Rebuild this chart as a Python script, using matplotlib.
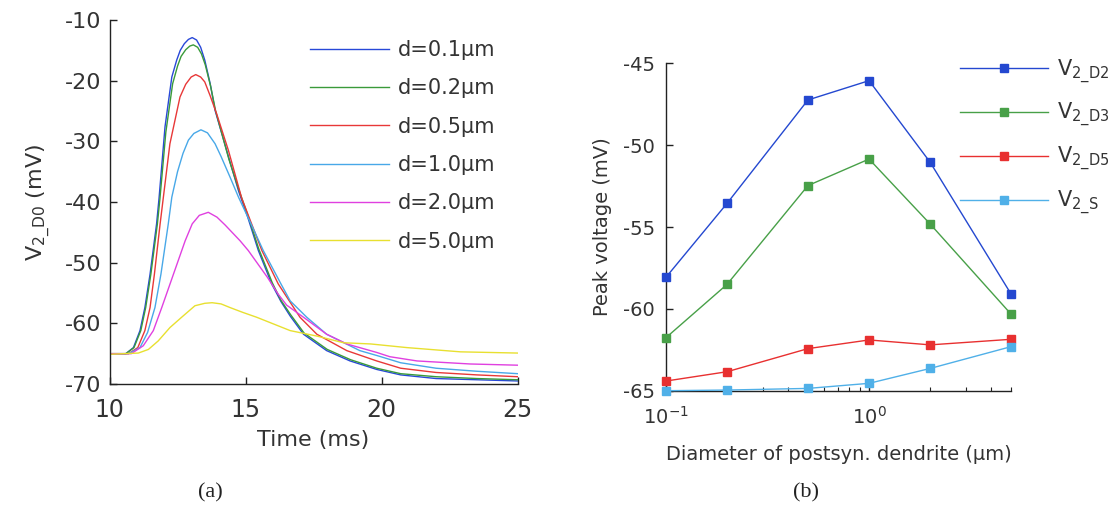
import matplotlib
matplotlib.use("Agg")
import matplotlib.pyplot as plt
import numpy as np

plt.rcParams['font.family'] = ['DejaVu Sans']
plt.rcParams['axes.unicode_minus'] = False
plt.rcParams['mathtext.fontset'] = 'dejavusans'
TXT = '#333333'

# ---------------- panel (a): time courses ----------------
labels_a = ['d=0.1µm', 'd=0.2µm', 'd=0.5µm', 'd=1.0µm', 'd=2.0µm', 'd=5.0µm']
colors_a = ['#2848d8', '#3a9a3a', '#e83838', '#48a8e8', '#e040e0', '#e8e030']

t_d01 = [10, 10.6, 10.88, 11.12, 11.3, 11.49, 11.73, 11.82, 12.04, 12.29, 12.47, 12.6, 12.75, 12.9, 13.04, 13.2,
         13.35, 13.5, 13.7, 13.88, 14.37, 14.75, 15.08, 15.47, 15.96, 16.3, 16.64, 17.13, 17.98, 18.84, 19.82,
         20.7, 22.0, 23.5, 25]
v_d01 = [-65, -65, -64.0, -61.2, -57.4, -51.9, -43.6, -39.4, -27.6, -19.4, -16.6, -15.0, -13.9, -13.2, -12.9, -13.3,
         -14.5, -16.6, -20.5, -24.9, -32.5, -38.3, -42.5, -48.0, -53.5, -56.4, -58.8, -61.8, -64.5, -66.2, -67.6,
         -68.5, -69.1, -69.3, -69.5]

t_d02 = [10, 10.6, 10.9, 11.15, 11.33, 11.52, 11.76, 11.85, 12.07, 12.32, 12.5, 12.63, 12.8, 12.95, 13.08, 13.24,
         13.38, 13.52, 13.72, 13.9, 14.39, 14.77, 15.1, 15.49, 15.98, 16.3, 16.66, 17.15, 18.0, 18.86, 19.82,
         20.7, 22.0, 23.5, 25]
v_d02 = [-65, -65, -64.0, -61.2, -57.4, -51.9, -43.6, -39.6, -28.5, -20.5, -17.6, -16.0, -14.9, -14.3, -14.1, -14.5,
         -15.6, -17.4, -21.0, -25.0, -33.0, -38.2, -42.4, -47.8, -53.3, -56.2, -58.6, -61.6, -64.3, -66.0, -67.4,
         -68.3, -68.8, -69.1, -69.3]

t_d05 = [10, 10.7, 11.04, 11.3, 11.49, 11.65, 11.86, 11.98, 12.22, 12.59, 12.8, 13.0, 13.17, 13.35, 13.5, 13.7,
         13.94, 14.37, 14.86, 15.6, 16.2, 17.0, 17.62, 18.72, 19.82, 20.7, 22.0, 23.5, 25]
v_d05 = [-65, -65, -64.0, -61.2, -57.4, -51.9, -43.6, -39.2, -30.4, -22.7, -20.6, -19.4, -19.0, -19.4, -20.2, -22.5,
         -25.5, -31.5, -39.4, -48.0, -53.5, -59.0, -61.8, -64.5, -66.2, -67.4, -68.1, -68.5, -68.8]

t_d10 = [10, 10.7, 11.12, 11.4, 11.67, 11.89, 12.16, 12.29, 12.5, 12.7, 12.9, 13.1, 13.36, 13.6, 13.88, 14.1,
         14.43, 14.74, 15.2, 15.65, 16.3, 16.64, 17.25, 17.98, 19.2, 19.82, 20.7, 22.0, 23.5, 25]
v_d10 = [-65, -65, -64.0, -61.5, -57.4, -51.9, -43.6, -39.2, -35.0, -32.0, -29.8, -28.7, -28.1, -28.6, -30.4, -32.5,
         -35.9, -39.2, -43.6, -48.0, -53.5, -56.3, -59.0, -61.8, -64.5, -65.3, -66.5, -67.4, -67.9, -68.3]

t_d20 = [10, 10.8, 11.24, 11.61, 11.92, 12.35, 12.78, 13.04, 13.3, 13.63, 13.95, 14.25, 14.8, 15.1, 15.8,
         16.2, 16.51, 17.13, 17.98, 18.72, 19.82, 20.3, 21.3, 23.25, 25]
v_d20 = [-65, -65, -63.7, -61.2, -57.4, -51.9, -46.4, -43.6, -42.2, -41.7, -42.5, -43.8, -46.4, -48.0, -52.4,
         -55.2, -57.0, -59.0, -61.8, -63.4, -64.8, -65.5, -66.2, -66.7, -66.9]

t_d50 = [10, 11.06, 11.43, 11.79, 12.22, 12.65, 13.14, 13.5, 13.77, 14.1, 14.43, 14.9, 15.41, 16.64, 17.62,
         18.6, 19.6, 20.93, 22.9, 25]
v_d50 = [-65.1, -64.9, -64.3, -62.9, -60.7, -59.0, -57.1, -56.7, -56.6, -56.8, -57.4, -58.2, -59.0, -61.2, -62.1,
         -63.2, -63.4, -64.0, -64.7, -64.9]

series_a = [(t_d01, v_d01), (t_d02, v_d02), (t_d05, v_d05), (t_d10, v_d10), (t_d20, v_d20), (t_d50, v_d50)]

# ---------------- panel (b): peak voltage vs diameter ----------------
diam = [0.1, 0.2, 0.5, 1.0, 2.0, 5.0]
peak_D2 = [-58.07, -53.55, -47.24, -46.06, -51.05, -59.09]
peak_D3 = [-61.76, -58.5, -52.47, -50.85, -54.82, -60.32]
peak_D5 = [-64.41, -63.84, -62.43, -61.9, -62.2, -61.86]
peak_S = [-65.0, -64.96, -64.86, -64.55, -63.64, -62.31]
labels_b = [r'V$_{\mathregular{2\_D2}}$', r'V$_{\mathregular{2\_D3}}$', r'V$_{\mathregular{2\_D5}}$', r'V$_{\mathregular{2\_S}}$']
colors_b = ['#2448d0', '#48a048', '#e83030', '#50b0e8']

W, H = 1120, 512
fig = plt.figure(figsize=(W / 100, H / 100), dpi=100)

def frac(x0, y0, x1, y1):
    return [x0 / W, 1 - y1 / H, (x1 - x0) / W, (y1 - y0) / H]

ax1 = fig.add_axes(frac(109.5, 20, 517.7, 384))
for (t, v), c, lab in zip(series_a, colors_a, labels_a):
    ax1.plot(t, v, color=c, lw=1.0, label=lab)
ax1.set_xlim(10, 25)
ax1.set_ylim(-70, -10)
ax1.set_xticks([10, 15, 20, 25])
ax1.set_yticks([-10, -20, -30, -40, -50, -60, -70])
ax1.set_xlabel('Time (ms)', fontsize=16, color=TXT, labelpad=6)
ax1.set_ylabel(r'V$_{\mathregular{2\_D0}}$ (mV)', fontsize=16, color=TXT, labelpad=8)
leg1 = ax1.legend(loc='upper left', bbox_to_anchor=(310 / W, 1 - 40 / H), bbox_transform=fig.transFigure,
                  frameon=False, fontsize=15, handlelength=3.8, handletextpad=0.4, labelspacing=0.88,
                  borderpad=0, borderaxespad=0)
for tx in leg1.get_texts():
    tx.set_color(TXT)

ax2 = fig.add_axes(frac(666, 63.3, 1011, 390.7))
for vals, c, lab in zip([peak_D2, peak_D3, peak_D5, peak_S], colors_b, labels_b):
    ax2.plot(diam, vals, color=c, lw=1.0, marker='s', markersize=6, markeredgecolor=c,
             markerfacecolor=c, label=lab, clip_on=False, zorder=3)
ax2.set_xscale('log')
ax2.set_xlim(0.1, 5)
ax2.set_ylim(-65, -45)
ax2.set_yticks([-45, -50, -55, -60, -65])
ax2.set_xlabel('Diameter of postsyn. dendrite (µm)', fontsize=14, color=TXT, labelpad=12)
ax2.set_ylabel('Peak voltage (mV)', fontsize=14, color=TXT, labelpad=8)
leg2 = ax2.legend(loc='upper left', bbox_to_anchor=(960 / W, 1 - 57 / H), bbox_transform=fig.transFigure,
                  frameon=False, fontsize=15, handlelength=4.2, handletextpad=0.45, labelspacing=0.74,
                  borderpad=0, borderaxespad=0, numpoints=1)
for tx in leg2.get_texts():
    tx.set_color(TXT)

for ax, fs in ((ax1, 16), (ax2, 14)):
    for s in ('top', 'right'):
        ax.spines[s].set_visible(False)
    for s in ('left', 'bottom'):
        ax.spines[s].set_color('#222222')
        ax.spines[s].set_linewidth(1.0)
    ax.tick_params(direction='in', length=5, width=1, colors='#222222', labelcolor=TXT, labelsize=fs)
    ax.tick_params(which='minor', direction='in', length=3, width=0.8, colors='#222222')
    ax.set_facecolor('white')
ax1.tick_params(axis='x', pad=10, labelsize=17)
ax1.tick_params(axis='y', pad=6)
ax2.tick_params(axis='x', pad=11)
ax2.tick_params(axis='y', pad=8)

fig.text(210 / W, 1 - 493 / H, '(a)', ha='center', va='center', fontsize=16,
         family=['Liberation Serif', 'DejaVu Serif'], color='#222222')
fig.text(806 / W, 1 - 493 / H, '(b)', ha='center', va='center', fontsize=16,
         family=['Liberation Serif', 'DejaVu Serif'], color='#222222')

fig.savefig('out.png', dpi=100, facecolor='white')
